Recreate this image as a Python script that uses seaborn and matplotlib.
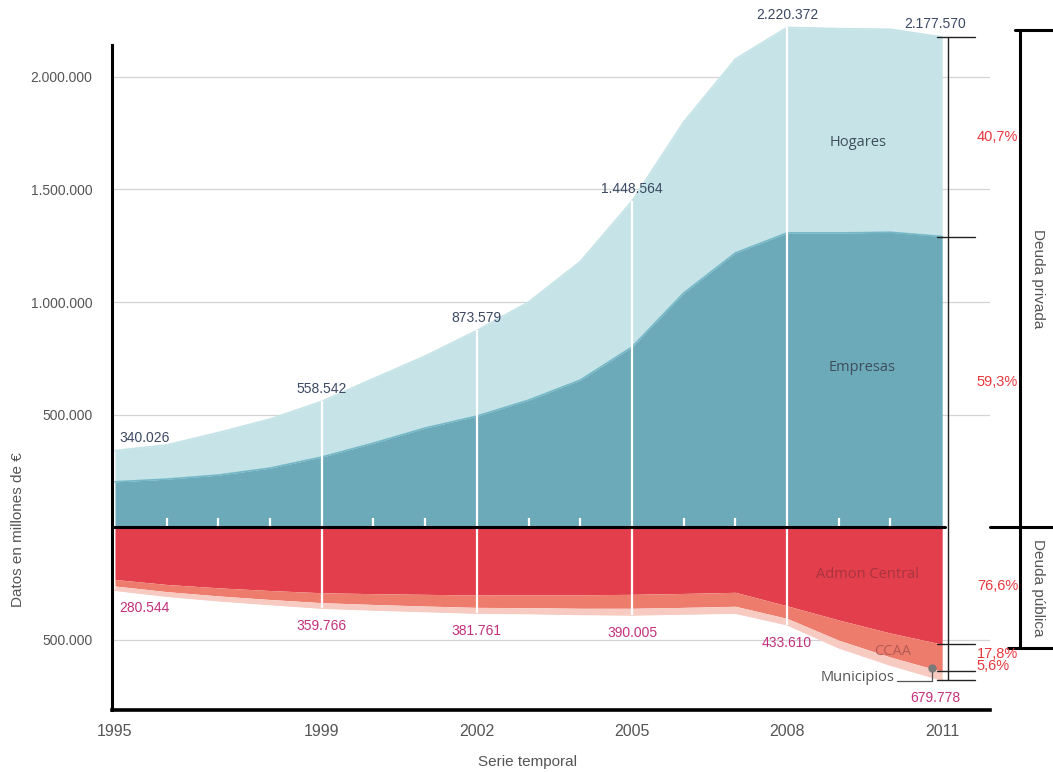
import matplotlib
matplotlib.use("Agg")
import pandas as pd
import matplotlib.pyplot as plt
import seaborn as sns

# Deuda en millones de euros
years = list(range(1995, 2012))
total_privada = [340026, 365000, 420000, 480000, 558542, 660000, 760000, 873579, 1000000,
                 1180000, 1448564, 1800000, 2080000, 2220372, 2215000, 2212000, 2177570]
empresas = [201000, 213000, 231000, 262000, 311000, 373000, 440000, 493000, 564000,
            653000, 800000, 1040000, 1218000, 1307000, 1307000, 1310000, 1291000]
admon_central = [233000, 255000, 270000, 282000, 292000, 296000, 299000, 302000, 301000,
                 301000, 299000, 295000, 290000, 350000, 413000, 471000, 520700]
ccaa = [29000, 32000, 36000, 40000, 44000, 48000, 52000, 55000, 57000,
        60000, 62000, 62000, 62000, 56000, 90000, 107000, 121000]
municipios = [18544, 20000, 21000, 22000, 23766, 24000, 24000, 24761, 26000,
              27000, 29005, 29000, 30000, 27610, 33000, 35000, 38078]

label_years = [1995, 1999, 2002, 2005, 2008, 2011]
line_years = [1999, 2002, 2005, 2008]

df = pd.DataFrame({'year': years, 'total': total_privada, 'empresas': empresas,
                   'central': admon_central, 'ccaa': ccaa, 'municipios': municipios})
df['pub_central'] = -df['central']
df['pub_ccaa'] = -(df['central'] + df['ccaa'])
df['pub_total'] = -(df['central'] + df['ccaa'] + df['municipios'])

C_HOG = '#c6e4e7'
C_EMP = '#6caab9'
C_CEN = '#e33e4c'
C_CCAA = '#ee7c6d'
C_MUN = '#f7cbc2'
NAVY = '#3b4863'
MAGENTA = '#c2307c'
RED = '#e8383d'
GRAY = '#555555'


def fmt(v):
    return f"{abs(int(v)):,}".replace(',', '.')


sns.set_theme(style='white')
plt.rcParams['font.family'] = ['Liberation Sans', 'DejaVu Sans']

fig = plt.figure(figsize=(10.53, 7.72), dpi=100)
ax = fig.add_axes([112 / 1053, 1 - 710 / 772, 878 / 1053, 685 / 772])

# areas
ax.fill_between(df['year'], 0, df['empresas'], color=C_EMP, lw=0, zorder=2)
ax.fill_between(df['year'], df['empresas'], df['total'], color=C_HOG, lw=0, zorder=2)
ax.fill_between(df['year'], 0, df['pub_central'], color=C_CEN, lw=0, zorder=2)
ax.fill_between(df['year'], df['pub_central'], df['pub_ccaa'], color=C_CCAA, lw=0, zorder=2)
ax.fill_between(df['year'], df['pub_ccaa'], df['pub_total'], color=C_MUN, lw=0, zorder=2)
for col, c in [('total', C_HOG), ('empresas', '#74b7c6'), ('pub_total', C_MUN)]:
    sns.lineplot(data=df, x='year', y=col, color=c, lw=1.2, ax=ax, zorder=2)

# white year lines
sel = df[df['year'].isin(line_years)]
ax.vlines(sel['year'], sel['pub_total'], sel['total'], color='white', lw=1.6, zorder=3)
small = df[~df['year'].isin(line_years + [1995, 2011])]
ax.vlines(small['year'], 0, 42000, color='white', lw=1.6, zorder=3)

# zero line
ax.axhline(0, xmin=0, xmax=(945 - 112) / 878, color='black', lw=2.2, zorder=4)

# value labels
lab = df[df['year'].isin(label_years)]
for yr, top, bot in zip(lab['year'], lab['total'], lab['pub_total']):
    ha = 'left' if yr == years[0] else 'center'
    dx = 3 if yr == years[0] else (-5 if yr == years[-1] else 0)
    ax.annotate(fmt(top), (yr, top), xytext=(dx, 4), textcoords='offset points',
                ha=ha, va='bottom', fontsize=10, color=NAVY, zorder=5)
    ax.annotate(fmt(bot), (yr, bot), xytext=(dx, -8), textcoords='offset points',
                ha=ha, va='top', fontsize=10, color=MAGENTA, zorder=5)

# area names
ax.text(2009.37, 1711000, 'Hogares', fontsize=10.5, color='#3e4e5c', family='Open Sans',
        ha='center', va='center', zorder=5)
ax.text(2009.45, 707000, 'Empresas', fontsize=10.5, color='#3e4e5c', family='Open Sans',
        ha='center', va='center', zorder=5)
ax.text(2009.56, -213000, 'Admon Central', fontsize=10.5, color='#a83440', family='Open Sans',
        ha='center', va='center', zorder=5)
ax.text(2010.04, -551000, 'CCAA', fontsize=10.5, color='#b35a55', family='Open Sans',
        ha='center', va='center', zorder=5)
ax.text(2010.08, -667000, 'Municipios', fontsize=10.5, color=GRAY, family='Open Sans',
        ha='right', va='center', zorder=5)
ax.plot([2010.13, 2010.8, 2010.8], [-684000, -684000, -627000], color=GRAY, lw=0.9,
        zorder=5, clip_on=False)
ax.plot([2010.8], [-627000], 'o', color='#7a7a7a', ms=5, zorder=6)

# thin bracket with shares at 2011
last = df.iloc[-1]
bx = 2011.11
edges = [last['total'], last['empresas'], last['pub_central'], last['pub_ccaa'], last['pub_total']]
ax.plot([bx, bx], [edges[0], edges[-1]], color='#222222', lw=1.0, clip_on=False, zorder=4)
for e in edges:
    ax.plot([2010.9, 2011.63], [e, e], color='#222222', lw=1.0, clip_on=False, zorder=4)
shares = [
    ((last['total'] - last['empresas']) / last['total'], (last['total'] + last['empresas']) / 2, 0),
    (last['empresas'] / last['total'], last['empresas'] / 2, 0),
    (last['central'] / -last['pub_total'], last['pub_central'] / 2, 0),
    (last['ccaa'] / -last['pub_total'], (last['pub_central'] + last['pub_ccaa']) / 2, 3),
    (last['municipios'] / -last['pub_total'], (last['pub_ccaa'] + last['pub_total']) / 2, 7),
]
for s, yv, dy in shares:
    ax.annotate(f"{s * 100:.1f}%".replace('.', ','), (2011.67, yv), xytext=(0, dy),
                textcoords='offset points', ha='left', va='center', fontsize=10.5,
                color=RED, annotation_clip=False)

# big bracket
gx = 2012.5
ax.plot([gx, gx], [2209000, -538000], color='black', lw=2.2, clip_on=False)
ax.plot([2012.41, 2013.2], [2209000, 2209000], color='black', lw=2.2, clip_on=False)
ax.plot([2011.93, 2013.2], [0, 0], color='black', lw=2.2, clip_on=False)
ax.plot([2012.27, 2013.2], [-538000, -538000], color='black', lw=2.2, clip_on=False)
ax.text(2012.86, 1104000, 'Deuda privada', rotation=-90, ha='center', va='center',
        fontsize=11, color=GRAY)
ax.text(2012.86, -269000, 'Deuda pública', rotation=-90, ha='center', va='center',
        fontsize=11, color=GRAY)

# axes
ax.set_xlim(1994.942, 2011.925)
ax.set_ylim(-813000, 2231000)
yt = [-500000, 500000, 1000000, 1500000, 2000000]
ax.set_yticks(yt)
ax.set_yticklabels([fmt(v) for v in yt], fontsize=10, color=GRAY)
ax.set_xticks(label_years)
ax.set_xticklabels([str(y) for y in label_years], fontsize=11.5, color=GRAY)
ax.tick_params(axis='both', length=0)
ax.tick_params(axis='x', pad=10)
ax.tick_params(axis='y', pad=14)
ax.yaxis.grid(True, color='#d4d4d4', lw=0.9, zorder=0)
ax.set_axisbelow(True)
ax.set_xlabel('')
ax.set_ylabel('')
sns.despine(ax=ax, top=True, right=True)
ax.spines['left'].set_linewidth(2.2)
ax.spines['left'].set_color('black')
ax.spines['left'].set_bounds(-813000, 2142000)
ax.spines['bottom'].set_linewidth(2.6)
ax.spines['bottom'].set_color('black')

fig.text(527 / 1053, 1 - 762 / 772, 'Serie temporal', ha='center', va='center',
         fontsize=11, color=GRAY)
fig.text(18 / 1053, 1 - 530 / 772, 'Datos en millones de €', rotation=90, ha='center',
         va='center', fontsize=11, color=GRAY)

fig.savefig('out.png', dpi=100)
